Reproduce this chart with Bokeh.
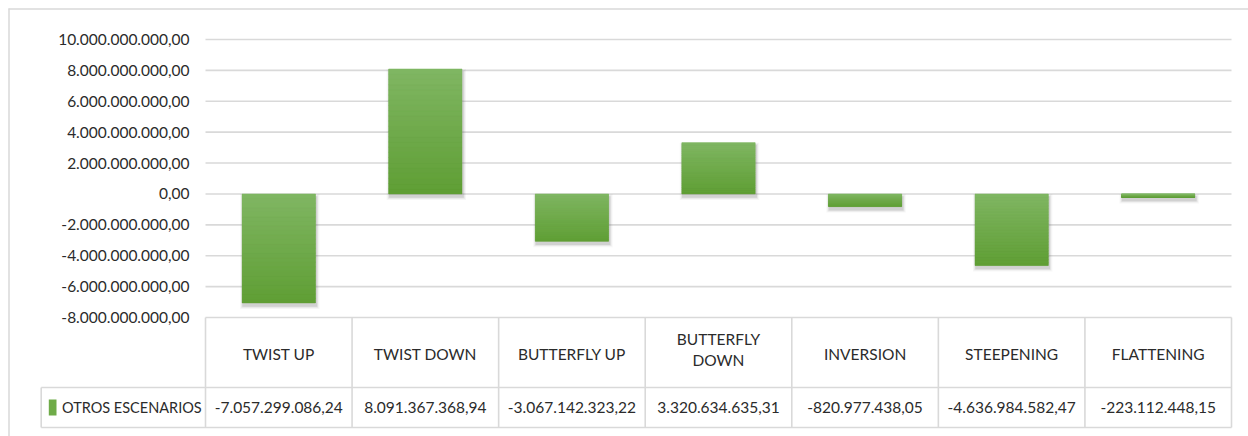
from bokeh.plotting import figure
from bokeh.models import Range1d
from bokeh.core.properties import value
from bokeh.embed import file_html
from bokeh.resources import INLINE

# ---------------- data ----------------
categories = ["TWIST UP", "TWIST DOWN", "BUTTERFLY UP", "BUTTERFLY\nDOWN",
              "INVERSION", "STEEPENING", "FLATTENING"]
series_name = "OTROS ESCENARIOS"
values = [-7057299086.24, 8091367368.94, -3067142323.22, 3320634635.31,
          -820977438.05, -4636984582.47, -223112448.15]
tick_values = [10e9, 8e9, 6e9, 4e9, 2e9, 0.0, -2e9, -4e9, -6e9, -8e9]
tick_labels = ["10.000.000.000,00", "8.000.000.000,00", "6.000.000.000,00",
               "4.000.000.000,00", "2.000.000.000,00", "0,00",
               "-2.000.000.000,00", "-4.000.000.000,00", "-6.000.000.000,00",
               "-8.000.000.000,00"]


def fmt(v):
    s = f"{v:,.2f}"
    return s.replace(",", "_").replace(".", ",").replace("_", ".")


value_labels = [fmt(v) for v in values]

# ---------------- layout (page pixels) ----------------
W, H = 1248, 436
PX0, PY0 = 0, 0                      # page offset of the canvas
PLOT_L, PLOT_R = 205.0, 1231.0       # category area
Y_TOP_PX, Y_BOT_PX = 39.0, 317.0     # pixel rows of max / min tick
n = len(categories)
cat_px = (PLOT_R - PLOT_L) / n
vmax, vmin = max(tick_values), min(tick_values)
val_per_px = (vmax - vmin) / (Y_BOT_PX - Y_TOP_PX)

x_start = (PX0 - PLOT_L) / cat_px
x_end = (PX0 + W - PLOT_L) / cat_px
y_end = vmax + (Y_TOP_PX - PY0) * val_per_px
y_start = vmin - (PY0 + H - Y_BOT_PX) * val_per_px

p = figure(width=W, height=H, min_border=0, output_backend="svg",
           toolbar_location=None, x_axis_type=None, y_axis_type=None,
           x_range=Range1d(x_start, x_end), y_range=Range1d(y_start, y_end))
p.outline_line_color = None
p.background_fill_color = "white"
p.border_fill_color = "white"
p.extra_x_ranges = {"px": Range1d(PX0, PX0 + W)}
p.extra_y_ranges = {"px": Range1d(PY0 + H, PY0)}

FONT = "Lato"
TXT = "#2b2b2b"
GRID = "#d9d9d9"

# outer chart border (left and top)
p.segment(x0=[8.5, 8.0], y0=[8.0, 8.5], x1=[8.5, float(W)],
          y1=[float(H), 8.5], line_color=GRID, line_width=1.5,
          x_range_name="px", y_range_name="px")

# horizontal gridlines
p.segment(x0=[0] * len(tick_values), x1=[n] * len(tick_values),
          y0=tick_values, y1=tick_values, line_color=GRID, line_width=1.6)

# y tick labels
p.text(x=[-16.0 / cat_px] * len(tick_values), y=tick_values, text=tick_labels,
       text_align="right", text_baseline="middle", text_font=value(FONT),
       text_font_size="15.5px", text_color=TXT)

# bars: shadow
centers = [i + 0.5 for i in range(n)]
half = 0.25
for grow, alpha in [(3.0, 0.06), (1.8, 0.10), (0.8, 0.16)]:
    dx = 1.0 / cat_px
    dy = 3.0 * val_per_px
    gx = grow / cat_px
    gy = grow * val_per_px
    p.quad(left=[c - half + dx - gx for c in centers],
           right=[c + half + dx + gx for c in centers],
           top=[max(v, 0) - dy + gy for v in values],
           bottom=[min(v, 0) - dy - gy for v in values],
           fill_color="#606060", fill_alpha=alpha, line_color=None)

# bars: base
p.vbar(x=centers, top=values, bottom=0, width=0.5, fill_color="#6fab48",
       line_color=None)

# bars: vertical gradient overlay (light top -> dark bottom)
top_rgb = (0x80, 0xb6, 0x63)
bot_rgb = (0x5f, 0x9e, 0x34)
N = 24
gl, gr, gt, gb, gc = [], [], [], [], []
for c, v in zip(centers, values):
    lo, hi = min(v, 0), max(v, 0)
    for k in range(N):
        f = (k + 0.5) / N
        rgb = tuple(int(round(b + (t - b) * f)) for t, b in zip(top_rgb, bot_rgb))
        gl.append(c - half)
        gr.append(c + half)
        gb.append(lo + (hi - lo) * k / N)
        gt.append(lo + (hi - lo) * (k + 1) / N)
        gc.append("#%02x%02x%02x" % rgb)
p.quad(left=gl, right=gr, top=gt, bottom=gb, fill_color=gc, line_color=gc,
       line_width=0.5)

# ---------------- data table ----------------
T_TOP, T_MID, T_BOT = 317.0, 387.0, 427.0
LEG_L = 40.7
# vertical lines of category columns
p.segment(x0=list(range(n + 1)), x1=list(range(n + 1)),
          y0=[T_TOP] * (n + 1), y1=[T_BOT] * (n + 1),
          line_color=GRID, line_width=1.6, y_range_name="px")
# horizontal lines
p.segment(x0=[LEG_L, LEG_L], x1=[PLOT_R, PLOT_R], y0=[T_MID, T_BOT], y1=[T_MID, T_BOT],
          line_color=GRID, line_width=1.6, x_range_name="px", y_range_name="px")
p.segment(x0=[LEG_L], x1=[LEG_L], y0=[T_MID], y1=[T_BOT],
          line_color=GRID, line_width=1.6, x_range_name="px", y_range_name="px")

# header texts (two-line headers sit a little higher)
header_y = [349.0 if "\n" in c else 353.0 for c in categories]
p.text(x=centers, y=header_y, text=categories, text_align="center",
       text_baseline="middle", text_font=value(FONT), text_font_size="15.5px",
       text_color=TXT, text_line_height=1.2, y_range_name="px")
# value texts
p.text(x=centers, y=[(T_MID + T_BOT) / 2] * n, text=value_labels,
       text_align="center", text_baseline="middle", text_font=value(FONT),
       text_font_size="15.5px", text_color=TXT, y_range_name="px")
# legend key + series name
p.quad(left=[48.3], right=[56.0], top=[399.0], bottom=[415.0],
       fill_color="#6fab48", line_color=None, x_range_name="px", y_range_name="px")
p.text(x=[61.5], y=[(T_MID + T_BOT) / 2], text=[series_name], text_align="left",
       text_baseline="middle", text_font=value(FONT), text_font_size="14.5px",
       text_color=TXT, x_range_name="px", y_range_name="px")

open("out.html", "w").write(file_html(p, INLINE))
